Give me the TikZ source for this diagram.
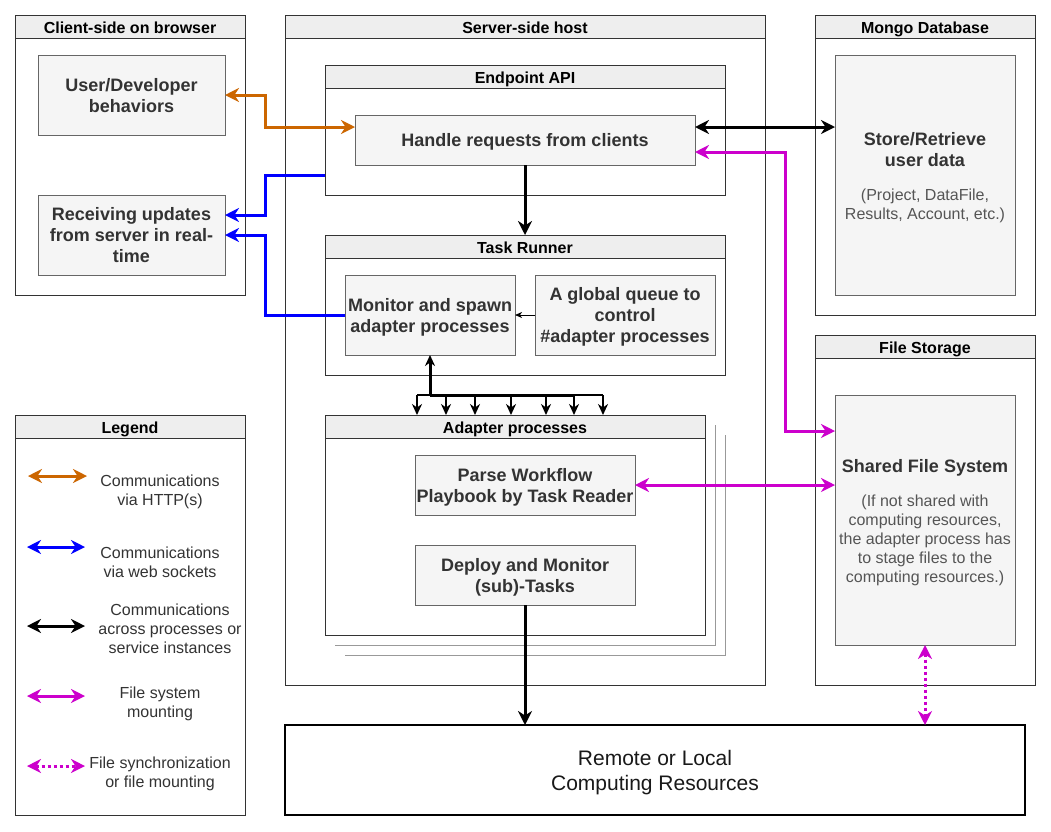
\documentclass[tikz,border=0pt]{standalone}
\usepackage{fontspec}
\setmainfont{Liberation Sans}
\usetikzlibrary{arrows.meta}
\definecolor{boxfill}{HTML}{F5F5F5}
\definecolor{boxline}{HTML}{666666}
\definecolor{hdrfill}{HTML}{EEEEEE}
\definecolor{cline}{HTML}{333333}
\definecolor{txt}{HTML}{333333}
\definecolor{subtxt}{HTML}{555555}
\definecolor{orangec}{HTML}{CC6600}
\definecolor{bluec}{HTML}{0000FF}
\definecolor{magc}{HTML}{CC00CC}
\definecolor{shadowc}{HTML}{999999}
\begin{document}
\begin{tikzpicture}[x=1pt,y=-1pt,
 container/.style={draw=cline, line width=1pt, fill=white, anchor=north west, inner sep=0pt, outer sep=0pt},
 hdr/.style={draw=cline, line width=1pt, fill=hdrfill, anchor=north west, minimum height=23pt, inner sep=0pt, outer sep=0pt, text height=14.5pt, text depth=0pt, font=\fontsize{16}{19}\selectfont\bfseries, text=black},
 box/.style={draw=boxline, line width=1pt, fill=boxfill, anchor=north west, inner sep=0pt, outer sep=0pt, align=center, text depth=0pt, text=txt, font=\fontsize{18}{21}\selectfont\bfseries},
 boldtxt/.style={align=center, text=txt, inner sep=0pt, font=\fontsize{18}{21}\selectfont\bfseries},
 subtext/.style={align=center, text=subtxt, inner sep=0pt, font=\fontsize{16}{19}\selectfont},
 legtext/.style={align=center, text=txt, inner sep=0pt, font=\fontsize{16}{19}\selectfont},
 tipbig/.tip={Stealth[length=14pt,width=14pt,inset=4.5pt]},
 tipmid/.tip={Stealth[length=11pt,width=10pt,inset=3.5pt]},
 tipsmall/.tip={Stealth[length=7pt,width=6pt,inset=2pt]},
 mainline/.style={line width=3pt},
 orangeline/.style={mainline, draw=orangec, tipbig-tipbig},
 blueline/.style={mainline, draw=bluec, -tipbig},
 magline/.style={mainline, draw=magc, tipbig-tipbig},
 blackline/.style={mainline, draw=black},
 dotline/.style={mainline, draw=magc, dash pattern=on 3pt off 3pt, tipbig-tipbig},
 fanarr/.style={line width=1.6pt, -tipmid},
]
\fill[white] (0,0) rectangle (1051,831);
\useasboundingbox (0,0) rectangle (1051,831);

% Client side
\node[container, minimum width=230pt, minimum height=280pt] (client) at (15,15) {};
\node[hdr, minimum width=230pt] (clienth) at (15,15) {Client-side on browser};
\node[box, minimum width=187pt, minimum height=80pt] (user) at (38,55) {User/Developer\\behaviors};
\node[box, minimum width=187pt, minimum height=80pt] (recv) at (38,195) {Receiving updates\\from server in real-\\time};

% Server side
\node[container, minimum width=480pt, minimum height=670pt] (server) at (285,15) {};
\node[hdr, minimum width=480pt] (serverh) at (285,15) {Server-side host};

\node[container, minimum width=400pt, minimum height=130pt] (endpoint) at (325,65) {};
\node[hdr, minimum width=400pt] (endpointh) at (325,65) {Endpoint API};
\node[box, minimum width=340pt, minimum height=50pt] (handle) at (355,115) {Handle requests from clients};

\node[container, minimum width=400pt, minimum height=140pt] (taskrunner) at (325,235) {};
\node[hdr, minimum width=400pt] (taskrunnerh) at (325,235) {Task Runner};
\node[box, minimum width=170pt, minimum height=80pt] (monitor) at (345,275) {Monitor and spawn\\adapter processes};
\node[box, minimum width=180pt, minimum height=80pt] (queue) at (535,275) {A global queue to\\control\\\#adapter processes};

\draw[shadowc, line width=1pt] (345,655) -| (725,435);
\draw[shadowc, line width=1pt] (335,645) -| (715,425);
\node[container, minimum width=380pt, minimum height=220pt] (adapter) at (325,415) {};
\node[hdr, minimum width=380pt] (adapterh) at (325,415) {Adapter processes};
\node[box, minimum width=220pt, minimum height=60pt] (parse) at (415,455) {Parse Workflow\\Playbook by Task Reader};
\node[box, minimum width=220pt, minimum height=60pt] (deploy) at (415,545) {Deploy and Monitor\\(sub)-Tasks};

% Mongo
\node[container, minimum width=220pt, minimum height=300pt] (mongo) at (815,15) {};
\node[hdr, minimum width=220pt] (mongoh) at (815,15) {Mongo Database};
\node[box, minimum width=180pt, minimum height=240pt] (store) at (835,55) {};
\node[boldtxt] (storetxt) at (925,150) {Store/Retrieve\\user data};
\node[subtext] (storesub) at (925,206) {(Project, DataFile,\\Results, Account, etc.)};

% File storage
\node[container, minimum width=220pt, minimum height=350pt] (filestor) at (815,335) {};
\node[hdr, minimum width=220pt] (filestorh) at (815,335) {File Storage};
\node[box, minimum width=180pt, minimum height=250pt] (sfs) at (835,395) {};
\node[boldtxt] (sfstxt) at (925,468) {Shared File System};
\node[subtext] (sfssub) at (925,540.5) {(If not shared with\\computing resources,\\the adapter process has\\to stage files to the\\computing resources.)};

% Legend
\node[container, minimum width=230pt, minimum height=400pt] (legend) at (15,415) {};
\node[hdr, minimum width=230pt] (legendh) at (15,415) {Legend};

% Remote
\node[draw=black, line width=1.2pt, fill=white, anchor=north west, minimum width=740pt, minimum height=90pt, inner sep=0pt, outer sep=0pt, align=center, text depth=0pt, font=\fontsize{21}{25}\selectfont, text=black!90] (remote) at (285,725) {Remote or Local\\Computing Resources};

% Connectors
\draw[orangeline] (user.east) -- ++(40,0) |- ([yshift=13pt]handle.west);
\draw[blueline] ([yshift=-45pt]endpoint.west) -- ++(-60,0) |- ([yshift=20pt]recv.east);
\draw[blueline] (monitor.west) -- ++(-80,0) |- (recv.east);
\draw[blackline, tipbig-tipbig] ([yshift=13pt]handle.east) -- ([yshift=13pt]handle.east -| store.west);
\draw[magline] ([yshift=-12pt]handle.east) -- ++(90,0) |- ([yshift=89pt]sfs.west);
\draw[magline] (parse.east) -- (parse.east -| sfs.west);
\draw[blackline, -tipbig] (handle.south) -- (taskrunner.north);
\draw[line width=1pt, -tipsmall] (queue.west) -- (monitor.east);
\coordinate (bus) at ([yshift=-40pt]monitor.south);
\draw[blackline, tipmid-] (monitor.south) -- (bus);
\draw[line width=1.6pt] ([xshift=-13pt]bus) -- ([xshift=173pt]bus);
\draw[blackline] (bus) -- ([xshift=145pt]bus);
\foreach \dx in {-13,16,45,81,116,144,173}
  \draw[fanarr] (bus) ++(\dx,0) -- ++(0,20);
\draw[blackline, -tipbig] (deploy.south) -- (deploy.south |- remote.north);
\draw[dotline] (sfs.south) -- (sfs.south |- remote.north);

% Legend entries
\coordinate (lg1a) at (28,476); \coordinate (lg1b) at (87,476);
\coordinate (lg2a) at (27,547); \coordinate (lg2b) at (85,547);
\coordinate (lg3a) at (27,626); \coordinate (lg3b) at (85,626);
\coordinate (lg4a) at (27,696); \coordinate (lg4b) at (85,696);
\coordinate (lg5a) at (27,766); \coordinate (lg5b) at (85,766);
\draw[orangeline] (lg1a) -- (lg1b);
\draw[blueline, tipbig-tipbig] (lg2a) -- (lg2b);
\draw[blackline, tipbig-tipbig] (lg3a) -- (lg3b);
\draw[magline] (lg4a) -- (lg4b);
\draw[dotline] (lg5a) -- (lg5b);
\node[legtext] (lt1) at (160,492) {Communications\\via HTTP(s)};
\node[legtext] (lt2) at (160,562) {Communications\\via web sockets};
\node[legtext] (lt3) at (170,628.5) {Communications\\across processes or\\service instances};
\node[legtext] (lt4) at (160,704) {File system\\mounting};
\node[legtext] (lt5) at (160,774) {File synchronization\\or file mounting};
\end{tikzpicture}
\end{document}
